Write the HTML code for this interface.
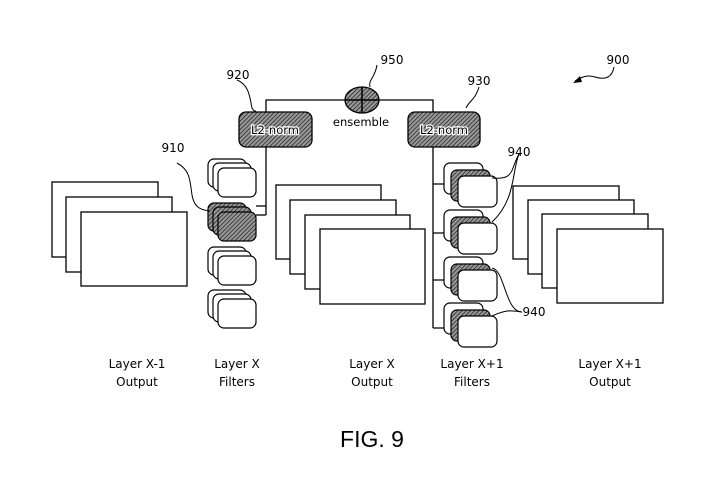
<!DOCTYPE html>
<html><head><meta charset="utf-8"><style>
html,body{margin:0;padding:0;background:#fff;}
svg{display:block;}
text{font-family:"DejaVu Sans","Liberation Sans",sans-serif;fill:#000;}
</style></head><body>
<svg width="703" height="499" viewBox="0 0 703 499" xmlns="http://www.w3.org/2000/svg">
<defs>
<pattern id="h" patternUnits="userSpaceOnUse" width="3" height="3" patternTransform="rotate(45)">
<rect width="3" height="3" fill="#999"/><line x1="0" y1="0" x2="0" y2="3" stroke="#222" stroke-width="1.5"/>
</pattern>
</defs>
<g fill="#fff" stroke="#000" stroke-width="1.3">
<rect x="52" y="182" width="106" height="75"/>
<rect x="66" y="197" width="106" height="75"/>
<rect x="81" y="212" width="106" height="74"/>
<rect x="276" y="185" width="105" height="74"/>
<rect x="290" y="200" width="106" height="74"/>
<rect x="305" y="215" width="105" height="74"/>
<rect x="320" y="229" width="105" height="75"/>
<rect x="513" y="186" width="106" height="73"/>
<rect x="528" y="200" width="106" height="74"/>
<rect x="542" y="214" width="106" height="74"/>
<rect x="557" y="229" width="106" height="74"/>
</g>
<g fill="none" stroke="#000" stroke-width="1.3">
<polyline points="266,112 266,100 433,100 433,112"/>
<line x1="266" y1="147" x2="266" y2="215"/>
<line x1="256" y1="206" x2="266" y2="206"/>
<line x1="256" y1="215" x2="266" y2="215"/>
<line x1="433" y1="147" x2="433" y2="328"/>
<line x1="433" y1="184" x2="455" y2="184"/>
<line x1="433" y1="233" x2="455" y2="233"/>
<line x1="433" y1="280" x2="455" y2="280"/>
<line x1="433" y1="328" x2="455" y2="328"/>
</g>
<g stroke="#000" stroke-width="1.2">
<g fill="#fff">
<rect x="208" y="159" width="38" height="28" rx="6"/><rect x="213" y="163" width="38" height="28" rx="6"/><rect x="218" y="168" width="38" height="29" rx="6"/>
</g>
<g fill="url(#h)">
<rect x="208" y="203" width="38" height="28" rx="6"/><rect x="213" y="207" width="38" height="28" rx="6"/><rect x="218" y="212" width="38" height="29" rx="6"/>
</g>
<g fill="#fff">
<rect x="208" y="247" width="38" height="28" rx="6"/><rect x="213" y="251" width="38" height="28" rx="6"/><rect x="218" y="256" width="38" height="29" rx="6"/>
<rect x="208" y="290" width="38" height="28" rx="6"/><rect x="213" y="294" width="38" height="28" rx="6"/><rect x="218" y="299" width="38" height="29" rx="6"/>
</g>
</g>
<g stroke="#000" stroke-width="1.2">
<g>
<rect x="444" y="163" width="39" height="31" rx="6" fill="#fff"/><rect x="451" y="170" width="39" height="31" rx="6" fill="url(#h)"/><rect x="458" y="176" width="39" height="31" rx="6" fill="#fff"/>
</g>
<g>
<rect x="444" y="210" width="39" height="31" rx="6" fill="#fff"/><rect x="451" y="217" width="39" height="31" rx="6" fill="url(#h)"/><rect x="458" y="223" width="39" height="31" rx="6" fill="#fff"/>
</g>
<g>
<rect x="444" y="257" width="39" height="31" rx="6" fill="#fff"/><rect x="451" y="264" width="39" height="31" rx="6" fill="url(#h)"/><rect x="458" y="270" width="39" height="31" rx="6" fill="#fff"/>
</g>
<g>
<rect x="444" y="303" width="39" height="31" rx="6" fill="#fff"/><rect x="451" y="310" width="39" height="31" rx="6" fill="url(#h)"/><rect x="458" y="316" width="39" height="31" rx="6" fill="#fff"/>
</g>
</g>
<g stroke="#000" stroke-width="1.3" fill="url(#h)">
<rect x="239" y="112" width="73" height="35" rx="7"/>
<rect x="408" y="112" width="72" height="35" rx="7"/>
<ellipse cx="362" cy="100" rx="17" ry="13"/>
</g>
<g stroke="#000" stroke-width="1.5">
<line x1="345" y1="100" x2="379" y2="100"/><line x1="362" y1="87" x2="362" y2="113"/>
</g>
<g font-size="11.5" text-anchor="middle">
<text x="275" y="134" style="paint-order:stroke" stroke="#fff" stroke-width="2.5">L2-norm</text>
<text x="444" y="134" style="paint-order:stroke" stroke="#fff" stroke-width="2.5">L2-norm</text>
<text x="361" y="126">ensemble</text>
</g>
<g fill="none" stroke="#000" stroke-width="1">
<path d="M237,80 C250,85 250,100 252,108 C254,112 256,111 256,111"/>
<path d="M377,65 C375,78 368,80 370,87"/>
<path d="M479,87 C475,100 470,100 466,108"/>
<path d="M177,163 C190,170 190,180 192,195 C194,207 200,210 210,211"/>
<path d="M519,154 C510,170 515,180 492,178"/>
<path d="M519,154 C512,170 516,200 492,222"/>
<path d="M522,312 C505,312 505,270 492,268"/>
<path d="M522,312 C510,310 505,310 492,316"/>
<path d="M614,67 C612,78 605,80 595,77 C588,75 583,76 575,81"/>
</g>
<path d="M573,83 L580,76 L582,82 Z" fill="#000"/>
<g font-size="12" text-anchor="middle">
<text x="238" y="79">920</text>
<text x="392" y="64">950</text>
<text x="479" y="85">930</text>
<text x="173" y="152">910</text>
<text x="519" y="156">940</text>
<text x="534" y="316">940</text>
<text x="618" y="64">900</text>
<text x="137" y="368">Layer X-1</text><text x="137" y="386">Output</text>
<text x="237" y="368">Layer X</text><text x="237" y="386">Filters</text>
<text x="372" y="368">Layer X</text><text x="372" y="386">Output</text>
<text x="472" y="368">Layer X+1</text><text x="472" y="386">Filters</text>
<text x="610" y="368">Layer X+1</text><text x="610" y="386">Output</text>
</g>
<text x="372" y="447" font-size="23" text-anchor="middle" style="font-family:'Liberation Sans',sans-serif">FIG. 9</text>
</svg>
</body></html>
